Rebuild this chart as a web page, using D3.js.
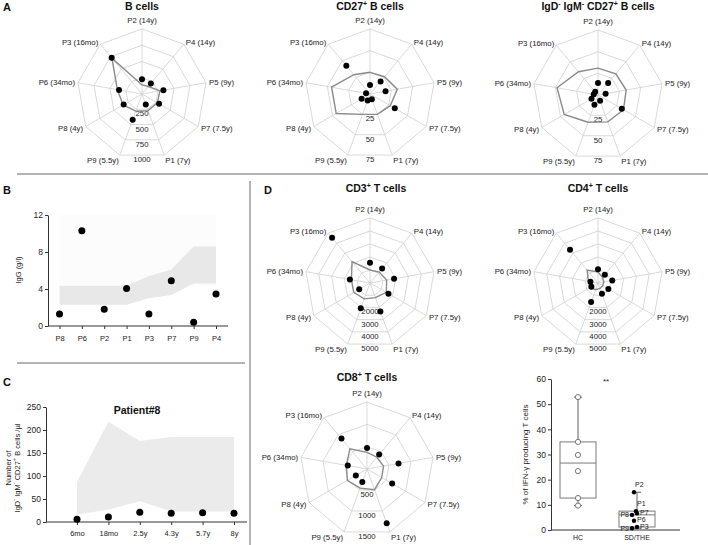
<!DOCTYPE html>
<html>
<head>
<meta charset="utf-8">
<script src="https://cdn.jsdelivr.net/npm/d3@7"></script>
<style>
  body { margin: 0; background: #fff; }
  svg { font-family: "Liberation Sans", Arial, Helvetica, sans-serif; }
</style>
</head>
<body>
<div id="chart"></div>
<script>
// RADAR AXES (clockwise from top)
const PATIENTS = ["P2 (14y)", "P4 (14y)", "P5 (9y)", "P7 (7.5y)", "P1 (7y)", "P9 (5.5y)", "P8 (4y)", "P6 (34mo)", "P3 (16mo)"];

// panel A
const B_CELLS      = [226, 212, 334, 303, 170, 420, 326, 359, 726];
const B_CELLS_REF  = [140, 150, 280, 272, 272, 280, 335, 385, 720];
const B_TICKS      = [250, 500, 750, 1000];
const CD27_B       = [10.4, 19, 18.2, 33, 6.3, 8, 11.2, 4.6, 42.5];
const CD27_B_REF   = [25, 26, 32, 27, 25, 25, 45, 45, 29];
const SW_B         = [13.8, 18.2, 8.9, 31.7, 7, 12, 8.7, 5, 5];
const SW_B_REF     = [31, 32, 33, 34, 33, 33.5, 45, 48, 35];
const PCT_TICKS    = [25, 50, 75];

// panel D radars
const CD3_T        = [1560, 1450, 1880, 1640, 2330, 2075, 960, 1570, 4540];
const CD3_T_REF    = [1000, 1100, 1300, 1450, 1200, 1300, 1450, 1450, 2150];
const CD4_T        = [1050, 820, 1115, 920, 890, 1550, 590, 590, 3350];
const CD4_T_REF    = [850, 550, 450, 420, 450, 550, 700, 750, 1300];
const T_RINGS      = [1000, 2000, 3000, 4000, 5000];
const T_LABELS     = [2000, 3000, 4000, 5000];
const CD8_T        = [470, 423, 716, 650, 1290, 307, 289, 437, 889];
const CD8_T_REF    = [373, 344, 376, 380, 493, 456, 508, 470, 593];
const CD8_TICKS    = [500, 1000, 1500];

// panel B
const IGG_PATIENTS = ["P8", "P6", "P2", "P1", "P3", "P7", "P9", "P4"];
const IGG          = [1.3, 10.3, 1.8, 4.05, 1.3, 4.9, 0.4, 3.45];
const IGG_LOW      = [2.3, 2.3, 2.3, 2.3, 3.0, 3.35, 4.6, 4.6];
const IGG_HIGH     = [4.35, 4.35, 4.35, 4.35, 5.4, 6.1, 8.6, 8.6];
const IGG_TICKS    = [0, 4, 8, 12];

// panel C
const P8_AGES      = ["6mo", "18mo", "2.5y", "4.3y", "5.7y", "8y"];
const P8_COUNTS    = [6, 11, 21, 19, 20, 19];
const P8_LOW       = [16, 27, 45, 23, 23, 23];
const P8_HIGH      = [87, 218, 176, 185, 185, 185];
const P8_TICKS     = [0, 50, 100, 150, 200, 250];

// panel D boxplot
const BOX_GROUPS   = ["HC", "SD/THE"];
const HC_IFN       = [52.8, 35, 29.8, 23.4, 12.7, 9.7];
const SD_IFN       = [15, 7.5, 6.6, 6, 3.7, 1.2, 0.7];
const SD_NAMES     = ["P2", "P1", "P7", "P8", "P6", "P3", "P9"];
const IFN_TICKS    = [0, 10, 20, 30, 40, 50, 60];

// jitter / label side for the patient dots (layout only)
const SD_JITTER = [-3, -1, 0, -5, -3, 0, -5];
const SD_SIDE   = ["up", "up", "right", "left", "right", "right", "left"];

const W = 708, H = 545;
const INK = "#222";

const svg = d3.select("#chart").append("svg")
    .attr("width", W)
    .attr("height", H);

// superscript-aware text
function richText(sel, parts, supSize) {
    parts.forEach((p, i) => {
        const prevSup = i > 0 && parts[i - 1][1];
        const t = sel.append("tspan").text(p[0]);
        if (p[1]) t.attr("font-size", supSize).attr("dy", -4);
        else if (prevSup) t.attr("dy", 4);
    });
    return sel;
}

function panelLetter(x, y, l) {
    svg.append("text").attr("x", x).attr("y", y)
        .attr("font-size", 11).attr("font-weight", "bold").attr("fill", "#111")
        .text(l);
}

// RADAR
function radar(spec) {
    const n = PATIENTS.length;
    const ang = i => i * 2 * Math.PI / n;
    const r = d3.scaleLinear().domain([0, spec.max]).range([0, spec.R]);
    const g = svg.append("g").attr("transform", `translate(${spec.cx},${spec.cy})`);
    const ring = d3.lineRadial()
        .angle((d, i) => ang(i))
        .radius(d => r(d))
        .curve(d3.curveLinearClosed);

    spec.rings.forEach(v => {
        g.append("path")
            .attr("d", ring(PATIENTS.map(() => v)))
            .attr("fill", "none")
            .attr("stroke", "#cfcfcf")
            .attr("stroke-width", 0.8);
    });
    PATIENTS.forEach((p, i) => {
        const [x, y] = d3.pointRadial(ang(i), r(spec.max));
        g.append("line")
            .attr("x1", 0).attr("y1", 0).attr("x2", x).attr("y2", y)
            .attr("stroke", "#cfcfcf").attr("stroke-width", 0.8);
        const [lx, ly] = d3.pointRadial(ang(i), r(spec.max) + 3);
        const s = Math.sin(ang(i));
        const c = Math.cos(ang(i));
        g.append("text")
            .attr("x", Math.abs(s) < 0.01 ? 0 : lx)
            .attr("y", c > 0.99 ? ly - 3 : ly + 3 + (c < -0.9 ? 2 : 0))
            .attr("text-anchor", Math.abs(s) < 0.01 ? "middle" : (s > 0 ? "start" : "end"))
            .attr("font-size", 7.8)
            .attr("fill", INK)
            .text(p);
    });
    spec.labels.forEach(v => {
        g.append("text")
            .attr("x", 0)
            .attr("y", r(v) * Math.cos(Math.PI / n) + 7)
            .attr("text-anchor", "middle")
            .attr("font-size", 7.8)
            .attr("fill", INK)
            .text(v);
    });
    g.append("path")
        .attr("d", ring(spec.ref))
        .attr("fill", "none")
        .attr("stroke", "#8a8a8a")
        .attr("stroke-width", 1.4);
    g.selectAll("circle.dot")
        .data(spec.values)
        .join("circle")
            .attr("class", "dot")
            .attr("cx", (d, i) => d3.pointRadial(ang(i), r(d))[0])
            .attr("cy", (d, i) => d3.pointRadial(ang(i), r(d))[1])
            .attr("r", 3)
            .attr("fill", "#000");
    const t = svg.append("text")
        .attr("x", spec.tx ?? spec.cx)
        .attr("y", spec.ty)
        .attr("text-anchor", "middle")
        .attr("font-size", 10.5)
        .attr("font-weight", "bold")
        .attr("fill", "#111");
    richText(t, spec.title, 7);
}

function styleAxis(g, size) {
    g.selectAll("text").attr("font-size", size).attr("fill", INK)
        .attr("font-family", '"Liberation Sans", Arial, sans-serif');
    g.selectAll("line").attr("stroke", "#333");
    g.select(".domain").attr("stroke", "#333");
}

// SEPARATORS
svg.append("line").attr("x1", 17).attr("x2", 708).attr("y1", 174).attr("y2", 174)
    .attr("stroke", "#9a9a9a").attr("stroke-width", 1.5);
svg.append("line").attr("x1", 250).attr("x2", 250).attr("y1", 181).attr("y2", 545)
    .attr("stroke", "#9a9a9a").attr("stroke-width", 1.5);
svg.append("line").attr("x1", 17).attr("x2", 245).attr("y1", 363).attr("y2", 363)
    .attr("stroke", "#9a9a9a").attr("stroke-width", 1.5);

// PANEL A
panelLetter(3, 11, "A");
radar({cx: 142, cy: 94, R: 65, ty: 10, max: 1000, rings: B_TICKS, labels: B_TICKS,
    values: B_CELLS, ref: B_CELLS_REF, title: [["B cells"]]});
radar({cx: 370, cy: 94, R: 65, ty: 10, max: 75, rings: PCT_TICKS, labels: PCT_TICKS,
    values: CD27_B, ref: CD27_B_REF, title: [["CD27"], ["+", true], [" B cells"]]});
radar({cx: 598, cy: 95, R: 65, ty: 10, max: 75, rings: PCT_TICKS, labels: PCT_TICKS,
    values: SW_B, ref: SW_B_REF,
    title: [["IgD"], ["-", true], [" IgM"], ["-", true], [" CD27"], ["+", true], [" B cells"]]});

// PANEL B
panelLetter(3, 194, "B");
{
    const x = d3.scalePoint().domain(IGG_PATIENTS).range([59.5, 216]);
    const y = d3.scaleLinear().domain([0, 12]).range([326, 215]);
    const idx = d3.range(IGG.length);

    svg.append("rect")
        .attr("x", x(IGG_PATIENTS[0])).attr("y", y(12))
        .attr("width", x(IGG_PATIENTS[IGG_PATIENTS.length - 1]) - x(IGG_PATIENTS[0]))
        .attr("height", y(IGG_HIGH[0]) - y(12))
        .attr("fill", "#fcfcfc");
    svg.append("path")
        .attr("d", d3.area()
            .x(i => x(IGG_PATIENTS[i]))
            .y0(i => y(IGG_LOW[i]))
            .y1(i => y(IGG_HIGH[i]))(idx))
        .attr("fill", "#e8e8e8");

    const xAxis = svg.append("g")
        .attr("transform", `translate(0, ${y(0)})`)
        .call(d3.axisBottom(x).tickSize(3).tickPadding(7).tickSizeOuter(0));
    xAxis.select(".domain").remove();
    svg.append("line").attr("x1", 48).attr("x2", 228).attr("y1", y(0)).attr("y2", y(0))
        .attr("stroke", "#333");
    styleAxis(xAxis, 7.5);

    const yAxis = svg.append("g")
        .attr("transform", "translate(48, 0)")
        .call(d3.axisLeft(y).tickValues(IGG_TICKS).tickSize(3).tickPadding(2).tickSizeOuter(0));
    styleAxis(yAxis, 8.5);

    svg.append("text")
        .attr("transform", "translate(21, 270) rotate(-90)")
        .attr("text-anchor", "middle")
        .attr("font-size", 7.5).attr("fill", INK)
        .text("IgG (g/l)");

    svg.selectAll("circle.igg")
        .data(IGG)
        .join("circle")
            .attr("class", "igg")
            .attr("cx", (d, i) => x(IGG_PATIENTS[i]))
            .attr("cy", d => y(d))
            .attr("r", 3.5)
            .attr("fill", "#000");
}

// PANEL C
panelLetter(3, 386, "C");
{
    const x = d3.scalePoint().domain(P8_AGES).range([77, 234]);
    const y = d3.scaleLinear().domain([0, 250]).range([522, 407]);
    const idx = d3.range(P8_AGES.length);

    svg.append("path")
        .attr("d", d3.area()
            .x(i => x(P8_AGES[i]))
            .y0(i => y(P8_LOW[i]))
            .y1(i => y(P8_HIGH[i]))(idx))
        .attr("fill", "#ebebeb");

    svg.append("text")
        .attr("x", 137).attr("y", 414)
        .attr("text-anchor", "middle")
        .attr("font-size", 10.5).attr("font-weight", "bold").attr("fill", "#111")
        .text("Patient#8");

    const xAxis = svg.append("g")
        .attr("transform", `translate(0, ${y(0)})`)
        .call(d3.axisBottom(x).tickSize(3).tickPadding(6).tickSizeOuter(0));
    xAxis.select(".domain").remove();
    svg.append("line").attr("x1", 46).attr("x2", 247).attr("y1", y(0)).attr("y2", y(0))
        .attr("stroke", "#333");
    styleAxis(xAxis, 7.5);

    const yAxis = svg.append("g")
        .attr("transform", "translate(46, 0)")
        .call(d3.axisLeft(y).tickValues(P8_TICKS).tickSize(3).tickPadding(2).tickSizeOuter(0));
    styleAxis(yAxis, 8.5);

    svg.append("text")
        .attr("transform", "translate(11, 468) rotate(-90)")
        .attr("text-anchor", "middle")
        .attr("font-size", 7.5).attr("fill", INK)
        .text("Number of");
    const yl = svg.append("text")
        .attr("transform", "translate(20, 468) rotate(-90)")
        .attr("text-anchor", "middle")
        .attr("font-size", 7.5).attr("fill", INK);
    richText(yl, [["IgD"], ["-", true], [" IgM"], ["-", true], [" CD27"], ["+", true], [" B cells /\u00b5l"]], 5.5);

    svg.selectAll("circle.p8")
        .data(P8_COUNTS)
        .join("circle")
            .attr("class", "p8")
            .attr("cx", (d, i) => x(P8_AGES[i]))
            .attr("cy", d => y(d))
            .attr("r", 3.5)
            .attr("fill", "#000");
}

// PANEL D
panelLetter(264, 194, "D");
radar({cx: 370, cy: 283, R: 65, tx: 376, ty: 192, max: 5000, rings: T_RINGS, labels: T_LABELS,
    values: CD3_T, ref: CD3_T_REF, title: [["CD3"], ["+", true], [" T cells"]]});
radar({cx: 598, cy: 283, R: 65, ty: 192, max: 5000, rings: T_RINGS, labels: T_LABELS,
    values: CD4_T, ref: CD4_T_REF, title: [["CD4"], ["+", true], [" T cells"]]});
radar({cx: 367, cy: 469, R: 67, ty: 381, max: 1500, rings: CD8_TICKS, labels: CD8_TICKS,
    values: CD8_T, ref: CD8_T_REF, title: [["CD8"], ["+", true], [" T cells"]]});

// BOXPLOT
{
    const x = d3.scalePoint().domain(BOX_GROUPS).range([578, 637]);
    const y = d3.scaleLinear().domain([0, 60]).range([530, 379]);
    const groups = [HC_IFN, SD_IFN];
    const BOX_W = 36;

    // hinges: medians of lower / upper halves (median excluded)
    const stats = groups.map(v => {
        const s = v.slice().sort(d3.ascending);
        const h = Math.floor(s.length / 2);
        return {
            min: s[0],
            q1: d3.median(s.slice(0, h)),
            med: d3.median(s),
            q3: d3.median(s.slice(s.length - h)),
            max: s[s.length - 1]
        };
    });

    const yAxis = svg.append("g")
        .attr("transform", "translate(551, 0)")
        .call(d3.axisLeft(y).tickValues(IFN_TICKS).tickSize(3).tickPadding(2).tickSizeOuter(0));
    styleAxis(yAxis, 8.5);
    svg.append("line").attr("x1", 551).attr("x2", 680).attr("y1", y(0)).attr("y2", y(0))
        .attr("stroke", "#333");
    BOX_GROUPS.forEach(gname => {
        svg.append("text")
            .attr("x", x(gname)).attr("y", 540)
            .attr("text-anchor", "middle")
            .attr("font-size", 7).attr("fill", INK)
            .text(gname);
    });
    svg.append("text")
        .attr("transform", `translate(528, ${(y(0) + y(60)) / 2}) rotate(-90)`)
        .attr("text-anchor", "middle")
        .attr("font-size", 8).attr("fill", INK)
        .text("% of IFN-\u03b3 producing T cells");

    stats.forEach((s, i) => {
        const cx = x(BOX_GROUPS[i]);
        const col = "#7a7a7a";
        svg.append("line").attr("x1", cx).attr("x2", cx).attr("y1", y(s.max)).attr("y2", y(s.q3))
            .attr("stroke", col).attr("stroke-width", 1.2);
        svg.append("line").attr("x1", cx).attr("x2", cx).attr("y1", y(s.q1)).attr("y2", y(s.min))
            .attr("stroke", col).attr("stroke-width", 1.2);
        [s.min, s.max].forEach(v => {
            svg.append("line").attr("x1", cx - 4).attr("x2", cx + 4).attr("y1", y(v)).attr("y2", y(v))
                .attr("stroke", col).attr("stroke-width", 1.2);
        });
        svg.append("rect")
            .attr("x", cx - BOX_W / 2).attr("y", y(s.q3))
            .attr("width", BOX_W).attr("height", y(s.q1) - y(s.q3))
            .attr("fill", "none").attr("stroke", col).attr("stroke-width", 1);
        svg.append("line").attr("x1", cx - BOX_W / 2).attr("x2", cx + BOX_W / 2)
            .attr("y1", y(s.med)).attr("y2", y(s.med))
            .attr("stroke", col).attr("stroke-width", 1);
    });

    svg.selectAll("circle.hc")
        .data(HC_IFN)
        .join("circle")
            .attr("class", "hc")
            .attr("cx", x("HC"))
            .attr("cy", d => y(d))
            .attr("r", 2.6)
            .attr("fill", "#fff")
            .attr("stroke", "#777")
            .attr("stroke-width", 1);

    svg.selectAll("circle.sd")
        .data(SD_IFN)
        .join("circle")
            .attr("class", "sd")
            .attr("cx", (d, i) => x("SD/THE") + SD_JITTER[i])
            .attr("cy", d => y(d))
            .attr("r", 2.2)
            .attr("fill", "#000");

    // patient labels, pushed apart so same-side labels do not collide
    const LABEL_GAP = 7.2;
    const labels = SD_IFN.map((d, i) => ({
        i, side: SD_SIDE[i],
        px: x("SD/THE") + SD_JITTER[i],
        ly: SD_SIDE[i] === "up" ? y(d) - 5 : y(d) + 2.5
    }));
    ["left", "right"].forEach(side => {
        const grp = labels.filter(l => l.side === side).sort((a, b) => b.ly - a.ly);
        for (let k = 1; k < grp.length; k++) {
            grp[k].ly = Math.min(grp[k].ly, grp[k - 1].ly - LABEL_GAP);
        }
    });
    labels.forEach(l => {
        svg.append("text")
            .attr("x", l.side === "left" ? l.px - 3 : l.px + (l.side === "up" ? 1 : 3))
            .attr("y", l.ly)
            .attr("text-anchor", l.side === "left" ? "end" : "start")
            .attr("font-size", 7).attr("fill", INK)
            .text(SD_NAMES[l.i]);
    });

    svg.append("text")
        .attr("x", 606).attr("y", 384)
        .attr("text-anchor", "middle")
        .attr("font-size", 8).attr("fill", INK)
        .text("**");
}
</script>
</body>
</html>
